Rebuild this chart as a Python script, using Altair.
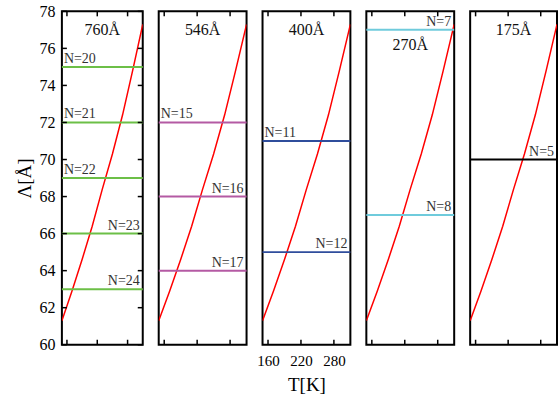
import altair as alt
import pandas as pd

# Period of the modulated structure versus temperature
T_CURVE = [150, 170, 190, 210, 230, 250, 270, 290, 310]
L_CURVE = [61.3, 62.9, 64.6, 66.4, 68.4, 70.3, 72.4, 74.8, 77.3]

# One panel per superlattice period
PANEL_TITLES = ["760Å", "546Å", "400Å", "270Å", "175Å"]
PANEL_COLORS = ["#6cbf47", "#b45aa3", "#2f4d9c", "#6fcbdc", "#000000"]
LEVELS = [[75, 72, 69, 66, 63], [72, 68, 64], [71, 65], [77, 67], [70]]
ORDERS = [[20, 21, 22, 23, 24], [15, 16, 17], [11, 12], [7, 8], [5]]
LABEL_SIDE = [
    ["left", "left", "left", "right", "right"],
    ["left", "right", "right"],
    ["left", "right"],
    ["right", "right"],
    ["right"],
]
TITLE_Y = [19, 19, 19, 34, 19]
WIDTHS = [81, 88, 88, 88, 87]
HEIGHT = 334

X_TICKS = [160, 220, 280]
Y_TICKS = list(range(60, 79, 2))

FONT = "Liberation Serif"
xs = alt.Scale(domain=[150, 310], nice=False, zero=False)
ys = alt.Scale(domain=[60, 78], nice=False, zero=False)

curve_df = pd.DataFrame({"T": T_CURVE, "L": L_CURVE})
xtick_df = pd.DataFrame({"T": X_TICKS})
ytick_df = pd.DataFrame({"L": Y_TICKS})


def panel(i):
    w = WIDTHS[i]
    if i == 2:
        x_axis = alt.Axis(values=X_TICKS, ticks=False, domain=False, grid=False,
                          labelFont=FONT, titleFont=FONT,
                          labelFontSize=15, labelPadding=9, labelColor="black",
                          title="T[K]", titleFontSize=19, titleFontWeight="normal",
                          titlePadding=7, titleColor="black")
    else:
        x_axis = None
    if i == 0:
        y_axis = alt.Axis(values=Y_TICKS, ticks=False, domain=False, grid=False,
                          labelFont=FONT, titleFont=FONT,
                          labelFontSize=16, labelPadding=7, labelColor="black",
                          title="Λ[Å]", titleFontSize=19, titleFontWeight="normal",
                          titlePadding=4, titleColor="black")
    else:
        y_axis = None

    xe = alt.X("T:Q", scale=xs, axis=x_axis)
    ye = alt.Y("L:Q", scale=ys, axis=y_axis)

    curve = alt.Chart(curve_df).mark_line(color="#ff0000", strokeWidth=1.5, clip=True).encode(
        x=xe, y=ye
    )

    lv = pd.DataFrame({
        "L": LEVELS[i],
        "label": [f"N={n}" for n in ORDERS[i]],
        "side": LABEL_SIDE[i],
    })
    rules = alt.Chart(lv).mark_rule(color=PANEL_COLORS[i], strokeWidth=2).encode(
        y=alt.Y("L:Q", scale=ys, axis=y_axis)
    )
    left_txt = alt.Chart(lv).transform_filter(alt.datum.side == "left").mark_text(
        align="left", baseline="bottom", dy=-1, fontSize=14, font=FONT, color="#333"
    ).encode(x=alt.value(2), y=alt.Y("L:Q", scale=ys, axis=y_axis), text="label:N")
    right_txt = alt.Chart(lv).transform_filter(alt.datum.side == "right").mark_text(
        align="right", baseline="bottom", dy=-1, fontSize=14, font=FONT, color="#333"
    ).encode(x=alt.value(w - 3), y=alt.Y("L:Q", scale=ys, axis=y_axis), text="label:N")

    title = alt.Chart(pd.DataFrame({"t": [PANEL_TITLES[i]]})).mark_text(
        align="center", baseline="middle", fontSize=16, font=FONT, color="#111"
    ).encode(x=alt.value(w / 2), y=alt.value(TITLE_Y[i]), text="t:N")

    top_ticks = alt.Chart(xtick_df).mark_rule(color="black", strokeWidth=1.5).encode(
        x=xe, y=alt.value(0), y2=alt.value(5)
    )
    bot_ticks = alt.Chart(xtick_df).mark_rule(color="black", strokeWidth=1.5).encode(
        x=xe, y=alt.value(HEIGHT - 5), y2=alt.value(HEIGHT)
    )
    layers = [curve, rules, left_txt, right_txt, title, top_ticks, bot_ticks]
    if i == 0:
        l_ticks = alt.Chart(ytick_df).mark_rule(color="black", strokeWidth=1.5).encode(
            y=ye, x=alt.value(0), x2=alt.value(5)
        )
        r_ticks = alt.Chart(ytick_df).mark_rule(color="black", strokeWidth=1.5).encode(
            y=ye, x=alt.value(w - 5), x2=alt.value(w)
        )
        layers += [l_ticks, r_ticks]
    return alt.layer(*layers).properties(width=w, height=HEIGHT)


chart = alt.hconcat(*[panel(i) for i in range(5)], spacing=16, bounds="flush").properties(
    padding={"left": 15, "top": 2, "right": 0, "bottom": 0}
).configure(font=FONT).configure_view(stroke="black", strokeWidth=2)

chart.save("out.html", embed_options={"renderer": "svg", "actions": False})
